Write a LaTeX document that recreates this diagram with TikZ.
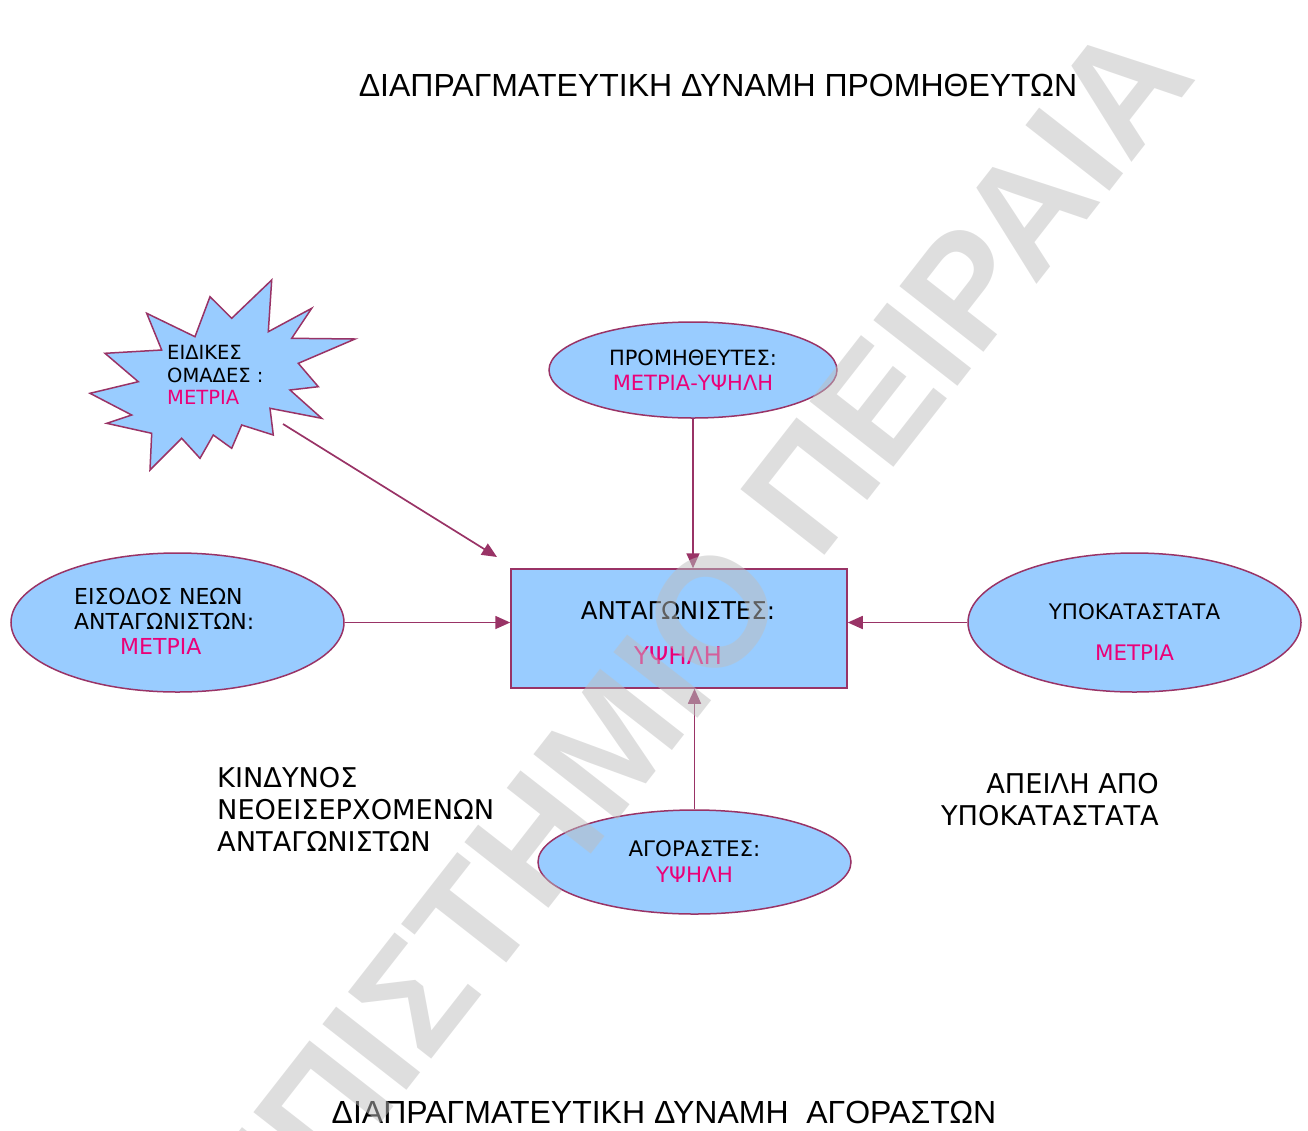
\documentclass[tikz,border=0pt]{standalone}
\usepackage{fontspec}
\setmainfont{DejaVu Sans}
\newfontfamily\titlefont{Liberation Sans}
\usepackage{tikz}
\usetikzlibrary{shapes.geometric,arrows.meta,positioning}
\definecolor{plum}{RGB}{153,51,102}
\definecolor{skyfill}{RGB}{153,204,255}
\definecolor{rosetext}{RGB}{235,0,120}
\definecolor{markgray}{RGB}{190,190,190}
\tikzstyle{block} = [draw=plum, fill=skyfill, rectangle, line width=1.5pt, minimum width=336pt, minimum height=119pt, inner sep=0pt]
\tikzstyle{oval} = [draw=plum, fill=skyfill, ellipse, line width=1.5pt, inner sep=0pt, align=center]
\tikzstyle{note} = [inner sep=0pt, font=\fontsize{27.2}{32}\selectfont]
\tikzstyle{arrow1} = [draw=plum, line width=1.7pt, -{Triangle[length=15pt,width=13pt]}]
\newcommand{\hi}[1]{\textcolor{rosetext}{#1}}

\begin{document}
\begin{tikzpicture}[x=1pt, y=-1pt]
\useasboundingbox (0,0) rectangle (1308,1130);

% Place shapes
\draw [draw=plum, fill=skyfill, line width=1.5pt] (271.7,280) -- (268.3,331.7) -- (311.7,308.3) -- (291.7,338.3) -- (355,339) -- (298.3,363.3) -- (318.3,386.7) -- (290,390) -- (321.7,418.3) -- (270,408.3) -- (273.3,435) -- (241.7,425) -- (231.7,448.3) -- (213.3,435) -- (200,458.3) -- (181.7,438.3) -- (150,470) -- (151.7,433.3) -- (106.7,423.3) -- (131.7,415) -- (90,393.3) -- (138.3,381.7) -- (105,353.3) -- (161.7,350) -- (146.7,313.3) -- (195,336.7) -- (210,296.7) -- (231.7,318.3) -- cycle;

% Place nodes
\node [block] (rivals) at (679,628.5) {};
\node [oval, minimum width=288pt, minimum height=96pt, font=\fontsize{21}{25}\selectfont] (suppliers) at (693,370) {ΠΡΟΜΗΘΕΥΤΕΣ:\\\hi{ΜΕΤΡΙΑ-ΥΨΗΛΗ}};
\node [oval, minimum width=333pt, minimum height=139pt] (entrants) at (177.5,622.5) {};
\node [oval, minimum width=333pt, minimum height=139pt] (substitutes) at (1134.5,622.5) {};
\node [oval, minimum width=313pt, minimum height=104pt, font=\fontsize{21.4}{26}\selectfont] (buyers) at (694.5,862) {ΑΓΟΡΑΣΤΕΣ:\\\hi{ΥΨΗΛΗ}};
\node [inner sep=0pt, align=center, font=\fontsize{24.5}{30}\selectfont] (rivalstext) at (678,632.5) {ΑΝΤΑΓΩΝΙΣΤΕΣ:\\[15pt]\hi{ΥΨΗΛΗ}};
\node [inner sep=0pt, align=center, font=\fontsize{21.4}{25}\selectfont] (substtext) at (1134.5,632) {ΥΠΟΚΑΤΑΣΤΑΤΑ\\[16pt]\hi{ΜΕΤΡΙΑ}};
\node [inner sep=0pt, anchor=west, align=left, font=\fontsize{22}{25}\selectfont] (entranttext) at (74,621) {ΕΙΣΟΔΟΣ ΝΕΩΝ\\ΑΝΤΑΓΩΝΙΣΤΩΝ:\\\hspace{46pt}\hi{ΜΕΤΡΙΑ}};
\node [inner sep=0pt, anchor=west, align=left, font=\fontsize{19.5}{22.5}\selectfont] (groupstext) at (167,375) {ΕΙΔΙΚΕΣ\\ΟΜΑΔΕΣ :\\\hi{ΜΕΤΡΙΑ}};
\coordinate (groupstip) at (283,424);
\coordinate (groupsend) at (497,557);

% Place texts
\node [inner sep=0pt, anchor=base, font=\titlefont\fontsize{32}{38}\selectfont] (toptitle) at (718,96) {ΔΙΑΠΡΑΓΜΑΤΕΥΤΙΚΗ ΔΥΝΑΜΗ ΠΡΟΜΗΘΕΥΤΩΝ};
\node [inner sep=0pt, anchor=base, font=\titlefont\fontsize{32}{38}\selectfont] (bottomtitle) at (664,1123) {ΔΙΑΠΡΑΓΜΑΤΕΥΤΙΚΗ ΔΥΝΑΜΗ\ \ ΑΓΟΡΑΣΤΩΝ};
\node [note, anchor=north west, align=left] (entryrisk) at (217,767.5) {ΚΙΝΔΥΝΟΣ\\ΝΕΟΕΙΣΕΡΧΟΜΕΝΩΝ\\ΑΝΤΑΓΩΝΙΣΤΩΝ};
\node [note, anchor=north east, align=right] (substrisk) at (1159,773.5) {ΑΠΕΙΛΗ ΑΠΟ\\ΥΠΟΚΑΤΑΣΤΑΤΑ};

% Place lines
\draw [arrow1] (suppliers.south) -- (suppliers.south |- rivals.north);
\draw [arrow1] (buyers.north) -- (buyers.north |- rivals.south);
\draw [arrow1] (entrants.east) -- (entrants.east -| rivals.west);
\draw [arrow1] (substitutes.west) -- (substitutes.west -| rivals.east);
\draw [arrow1] (groupstip) -- (groupsend);

% Watermark
\node [opacity=0.5, text=markgray, rotate=52, font=\titlefont\bfseries\fontsize{155}{155}\selectfont] (watermark) at (588,772) {ΠΑΝΕΠΙΣΤΗΜΙΟ ΠΕΙΡΑΙΑ};

\end{tikzpicture}
\end{document}
